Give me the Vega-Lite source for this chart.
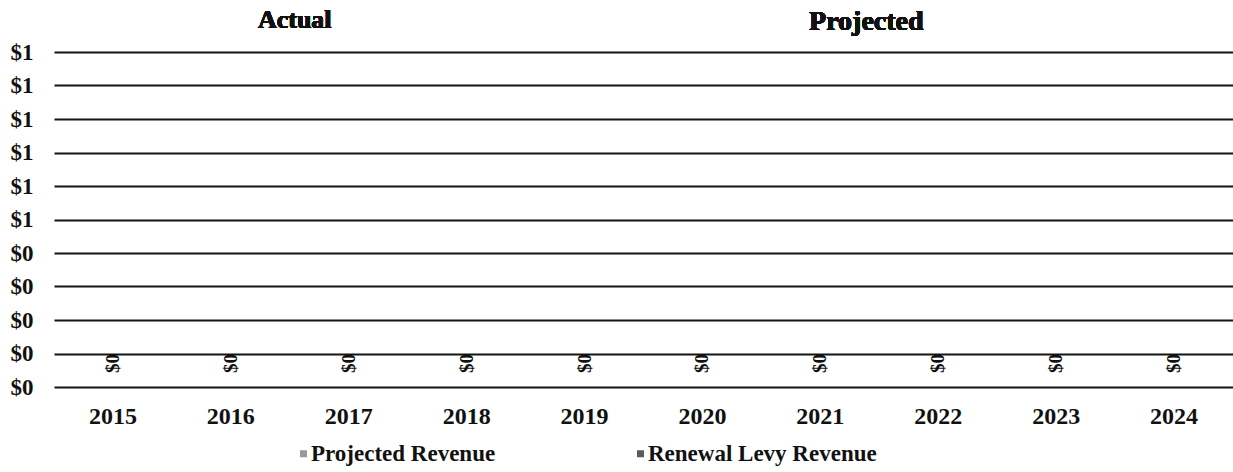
{
  "$schema": "https://vega.github.io/schema/vega-lite/v6.json",
  "width": 1179,
  "height": 335,
  "autosize": "none",
  "padding": {"left": 54, "top": 52, "right": 0, "bottom": 85},
  "background": "white",
  "config": {
    "view": {"stroke": null},
    "font": "Liberation Serif"
  },
  "datasets": {
    "revenue": [
      {"year": "2015", "series": "Projected Revenue", "value": 0},
      {"year": "2016", "series": "Projected Revenue", "value": 0},
      {"year": "2017", "series": "Projected Revenue", "value": 0},
      {"year": "2018", "series": "Projected Revenue", "value": 0},
      {"year": "2019", "series": "Projected Revenue", "value": 0},
      {"year": "2020", "series": "Projected Revenue", "value": 0},
      {"year": "2021", "series": "Projected Revenue", "value": 0},
      {"year": "2022", "series": "Projected Revenue", "value": 0},
      {"year": "2023", "series": "Projected Revenue", "value": 0},
      {"year": "2024", "series": "Projected Revenue", "value": 0},
      {"year": "2015", "series": "Renewal Levy Revenue", "value": 0},
      {"year": "2016", "series": "Renewal Levy Revenue", "value": 0},
      {"year": "2017", "series": "Renewal Levy Revenue", "value": 0},
      {"year": "2018", "series": "Renewal Levy Revenue", "value": 0},
      {"year": "2019", "series": "Renewal Levy Revenue", "value": 0},
      {"year": "2020", "series": "Renewal Levy Revenue", "value": 0},
      {"year": "2021", "series": "Renewal Levy Revenue", "value": 0},
      {"year": "2022", "series": "Renewal Levy Revenue", "value": 0},
      {"year": "2023", "series": "Renewal Levy Revenue", "value": 0},
      {"year": "2024", "series": "Renewal Levy Revenue", "value": 0}
    ]
  },
  "data": {"name": "revenue"},
  "encoding": {
    "x": {
      "field": "year",
      "type": "nominal",
      "scale": {"paddingInner": 0.4, "paddingOuter": 0.2},
      "axis": {
        "title": null,
        "labelAngle": 0,
        "labelPadding": 17,
        "labelFontSize": 24,
        "labelFontWeight": "bold",
        "labelColor": "#111",
        "ticks": false,
        "domain": false,
        "grid": false
      }
    }
  },
  "layer": [
    {
      "mark": {"type": "bar"},
      "encoding": {
        "y": {
          "field": "value",
          "type": "quantitative",
          "stack": "zero",
          "scale": {"domain": [0, 1], "nice": false},
          "axis": {
            "title": null,
            "tickCount": 10,
            "labelOverlap": false,
            "format": "$.0f",
            "labelFontSize": 23,
            "labelFontWeight": "bold",
            "labelColor": "#111",
            "labelPadding": 21,
            "ticks": false,
            "domain": false,
            "grid": true,
            "gridColor": "#141414",
            "gridWidth": 2
          }
        },
        "color": {
          "field": "series",
          "type": "nominal",
          "scale": {"range": ["#9a9a9a", "#5c5c5c"]},
          "legend": {
            "title": null,
            "orient": "none",
            "direction": "horizontal",
            "legendX": 238,
            "legendY": 390,
            "symbolType": "square",
            "symbolSize": 49,
            "symbolStrokeWidth": 0,
            "labelFontSize": 23,
            "labelFontWeight": "bold",
            "labelColor": "#111",
            "labelOffset": -4,
            "labelLimit": 400,
            "columnPadding": 133
          }
        }
      }
    },
    {
      "transform": [{"filter": "datum.series === 'Renewal Levy Revenue'"}],
      "mark": {
        "type": "text",
        "angle": 270,
        "align": "left",
        "baseline": "middle",
        "dx": 14,
        "fontSize": 19,
        "fontWeight": "bold",
        "color": "#111"
      },
      "encoding": {
        "y": {"field": "value", "type": "quantitative"},
        "text": {"field": "value", "type": "quantitative", "format": "$.0f"}
      }
    },
    {
      "mark": {
        "type": "text",
        "dx": -54,
        "dy": -32,
        "fontSize": 26,
        "fontWeight": "bold",
        "color": "#111",
        "baseline": "middle"
      },
      "encoding": {
        "x": {"datum": "2017"},
        "y": {"datum": 1},
        "text": {"value": "Actual"}
      }
    },
    {
      "mark": {
        "type": "text",
        "dx": 46,
        "dy": -30,
        "fontSize": 28,
        "fontWeight": "bold",
        "color": "#111",
        "baseline": "middle"
      },
      "encoding": {
        "x": {"datum": "2021"},
        "y": {"datum": 1},
        "text": {"value": "Projected"}
      }
    }
  ]
}
